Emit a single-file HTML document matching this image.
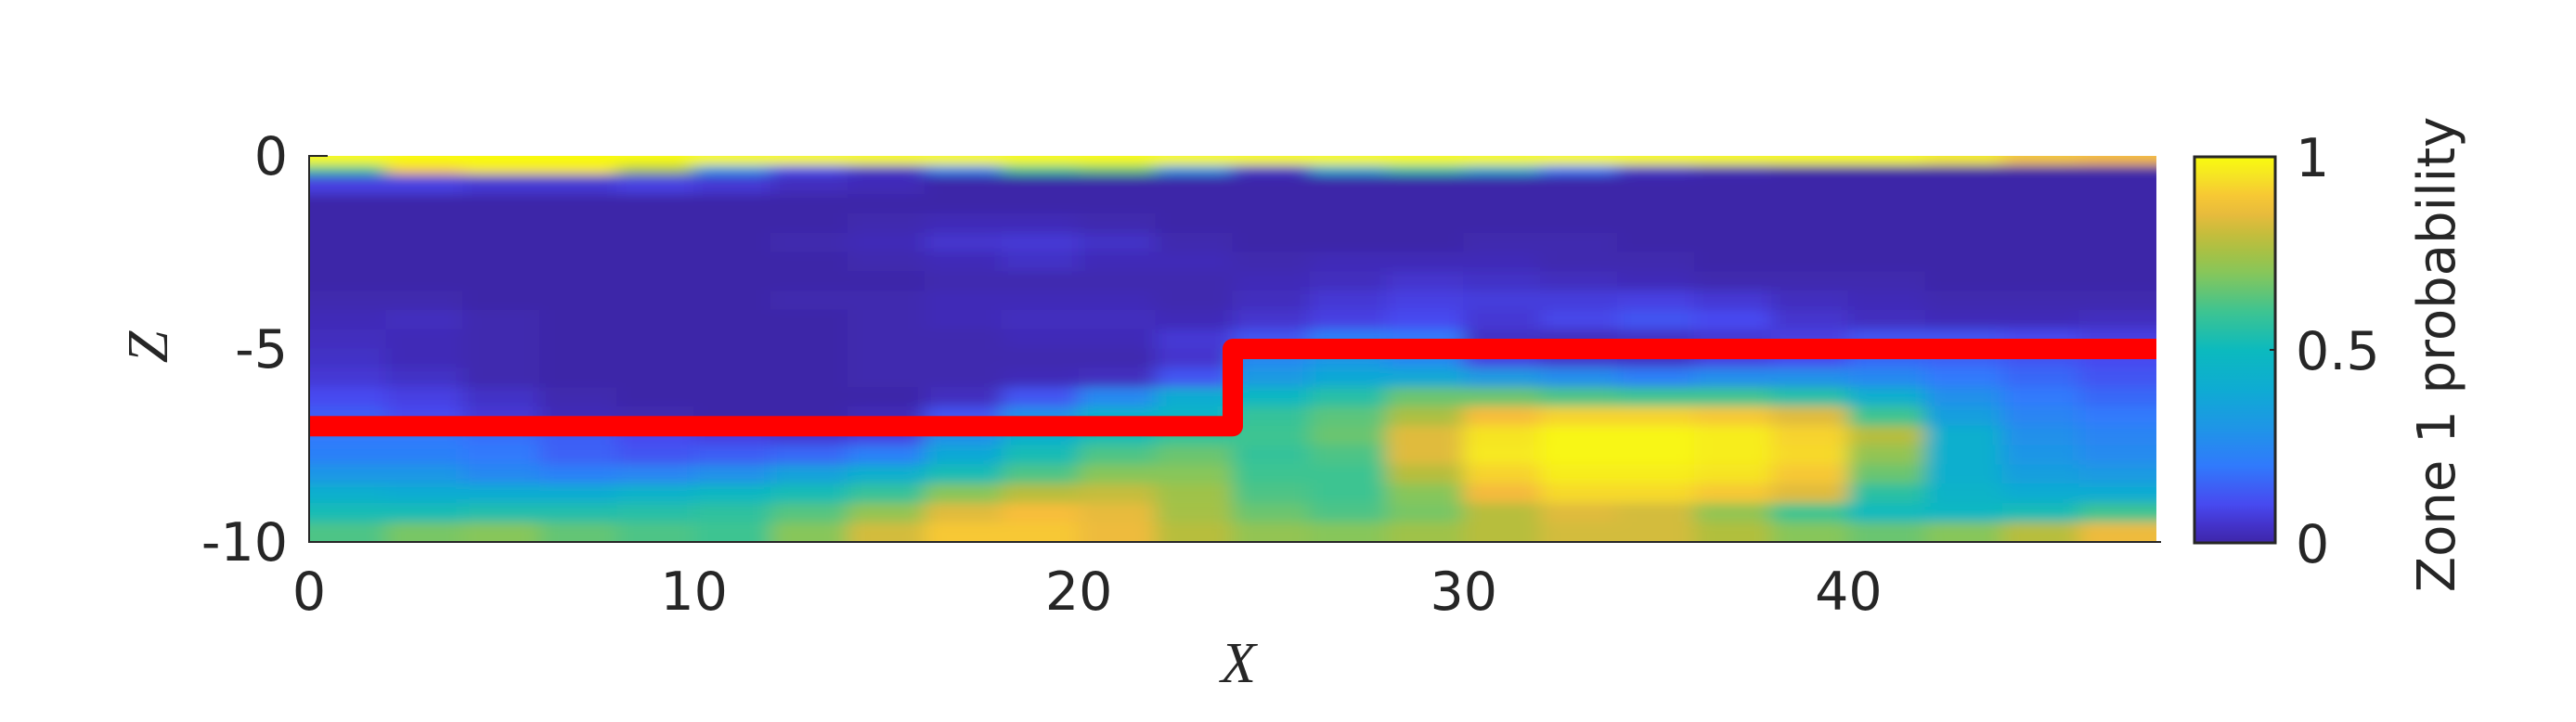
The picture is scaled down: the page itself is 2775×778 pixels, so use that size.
<!DOCTYPE html>
<html>
<head>
<meta charset="utf-8">
<style>
html,body{margin:0;padding:0;background:#fff;}
svg{display:block;}
text{font-family:"DejaVu Sans","Liberation Sans",sans-serif;fill:#262626;}
</style>
</head>
<body>
<svg id="chart" width="2775" height="778" viewBox="0 0 2775 778" xmlns="http://www.w3.org/2000/svg">
  <defs>
    <clipPath id="plotClip"><rect x="333" y="168" width="1990" height="416"/></clipPath>
    <filter id="soft" x="-5%" y="-5%" width="110%" height="110%"><feGaussianBlur stdDeviation="11 6"/></filter>
    <linearGradient id="cbGrad" x1="0" y1="1" x2="0" y2="0"></linearGradient>
  </defs>
  <rect width="2775" height="778" fill="#fff"/>
  <g clip-path="url(#plotClip)"><g id="cells" filter="url(#soft)"></g></g>
  <g id="line"></g>
  <g id="axes"></g>
  <g id="cbar"></g>
  <text x="1334" y="735" text-anchor="middle" style="font-family:'Liberation Serif',serif;font-style:italic;font-size:62px;">X</text>
  <text transform="translate(180,374) rotate(-90)" text-anchor="middle" style="font-family:'Liberation Serif',serif;font-style:italic;font-size:62px;">Z</text>
  <text transform="translate(2644,382) rotate(-90)" text-anchor="middle" style="font-size:56px;">Zone 1 probability</text>
</svg>
<script>
// ---- data ----
const xEdges0 = [0,2,4,6,8,10,12,14,16,18,20,22,24,26,28,30,32,34,36,38,40,42,44,46];
const colWidth = 2;
const topRowA = [1,1,1,1,1,1,1,1,1,1,1,1,1,1,1,1,1,1,1,1,1,0.97,0.9,0.88];
const topRowB = [0.6,0.9,0.95,0.95,0.75,0.3,0.1,0.05,0.25,0.6,0.65,0.3,0.05,0.4,0.55,0.4,0.2,0.05,0.02,0,0,0,0,0];
const rowTops = [-0.5,-1,-1.5,-2,-2.5,-3,-3.5,-4,-4.5,-5,-5.5,-6,-6.5,-7,-7.5,-8,-8.5,-9,-9.5];
const rowHeight = 0.5;
const grid = [
 [0.08,0.08,0.06,0.06,0.08,0.06,0.03,0.02,0,0,0,0,0,0,0,0,0,0,0,0,0,0,0,0],
 [0,0,0,0,0,0,0,0,0,0,0,0,0,0,0,0,0,0,0,0,0,0,0,0],
 [0,0,0,0,0,0,0,0.01,0.02,0.02,0.01,0,0,0,0,0,0,0,0,0,0,0,0,0],
 [0,0,0,0,0,0,0.01,0.02,0.05,0.06,0.04,0.01,0,0,0,0.01,0.01,0,0,0,0,0,0,0],
 [0,0,0,0,0,0,0,0.01,0.02,0.04,0.02,0.02,0.01,0.02,0.02,0.02,0.01,0.01,0,0,0,0,0,0],
 [0,0,0,0,0,0,0,0,0.01,0.01,0.01,0.01,0.02,0.03,0.05,0.04,0.03,0.02,0.01,0.01,0.01,0,0,0],
 [0.01,0.01,0,0,0,0,0.01,0.01,0.02,0.02,0.02,0.01,0.03,0.06,0.08,0.07,0.07,0.08,0.06,0.03,0.02,0.01,0.01,0.01],
 [0.02,0.03,0.01,0,0,0,0,0.01,0.02,0.03,0.03,0.02,0.05,0.08,0.1,0.06,0.09,0.12,0.1,0.05,0.03,0.02,0.02,0.03],
 [0.03,0.02,0.01,0,0,0,0,0.01,0.01,0.02,0.02,0.06,0.12,0.22,0.2,0.04,0.03,0.04,0.06,0.08,0.12,0.12,0.1,0.08],
 [0.04,0.02,0.01,0,0,0,0,0.01,0.01,0.01,0.01,0.05,0.25,0.3,0.25,0.08,0.05,0.04,0.08,0.1,0.16,0.15,0.12,0.1],
 [0.06,0.04,0.01,0,0,0,0,0.01,0.01,0.02,0.03,0.12,0.32,0.38,0.38,0.32,0.27,0.22,0.27,0.28,0.25,0.2,0.16,0.12],
 [0.1,0.08,0.04,0.01,0,0,0,0,0.03,0.12,0.25,0.4,0.48,0.55,0.66,0.66,0.62,0.6,0.6,0.55,0.42,0.28,0.2,0.16],
 [0.14,0.1,0.06,0.02,0.01,0,0,0.02,0.12,0.28,0.42,0.46,0.58,0.64,0.76,0.88,0.92,0.92,0.9,0.84,0.6,0.34,0.24,0.2],
 [0.2,0.2,0.18,0.14,0.1,0.08,0.06,0.08,0.28,0.42,0.52,0.58,0.6,0.66,0.84,0.95,0.99,0.99,0.97,0.92,0.78,0.42,0.28,0.24],
 [0.22,0.22,0.2,0.15,0.12,0.14,0.16,0.22,0.38,0.52,0.62,0.66,0.58,0.62,0.84,0.96,0.99,0.99,0.97,0.93,0.72,0.42,0.3,0.26],
 [0.3,0.3,0.25,0.22,0.24,0.28,0.35,0.42,0.52,0.62,0.7,0.7,0.6,0.6,0.78,0.92,0.97,0.97,0.95,0.9,0.66,0.42,0.34,0.32],
 [0.42,0.4,0.4,0.4,0.44,0.48,0.52,0.58,0.7,0.78,0.8,0.74,0.62,0.6,0.7,0.87,0.93,0.93,0.9,0.84,0.56,0.45,0.4,0.4],
 [0.52,0.52,0.54,0.54,0.55,0.57,0.63,0.72,0.84,0.88,0.85,0.75,0.66,0.62,0.68,0.78,0.84,0.82,0.72,0.6,0.5,0.48,0.52,0.6],
 [0.62,0.68,0.7,0.65,0.62,0.6,0.7,0.82,0.9,0.9,0.86,0.78,0.72,0.7,0.74,0.78,0.82,0.82,0.77,0.7,0.66,0.7,0.78,0.86]
];
const lineX = [0,24,24,48];
const lineZ = [-7,-7,-5,-5];
const xTicks = [0,10,20,30,40];
const zTicks = [0,-5,-10];
const cbTicks = [0,0.5,1];
const cbTickLabels = ["0","0.5","1"];

// ---- scales ----
const X0=333, X1=2323, Y0=168, Y1=584;
const sx = x => X0 + x/48*(X1-X0);
const sy = z => Y0 + (-z)/10*(Y1-Y0);
const P = [[0,[62,38,168]],[0.05,[68,52,205]],[0.1,[71,74,240]],[0.2,[48,122,252]],[0.3,[30,150,230]],[0.4,[14,172,210]],[0.5,[12,186,190]],[0.6,[62,196,145]],[0.7,[135,198,90]],[0.775,[180,190,60]],[0.875,[248,186,60]],[0.95,[246,228,36]],[1,[249,251,14]]];
function parula(v){
  v=Math.max(0,Math.min(1,v));
  for(let i=0;i<P.length-1;i++){
    if(v<=P[i+1][0]){const t=(v-P[i][0])/(P[i+1][0]-P[i][0]);
      const c=P[i][1].map((a,k)=>Math.round(a+(P[i+1][1][k]-a)*t));
      return `rgb(${c[0]},${c[1]},${c[2]})`;}
  }
  return 'rgb(249,251,14)';
}
const NS="http://www.w3.org/2000/svg";
function mk(tag,attrs,parent){const e=document.createElementNS(NS,tag);for(const k in attrs)e.setAttribute(k,attrs[k]);parent.appendChild(e);return e;}

// ---- heatmap ----
const cells=document.getElementById('cells');
function drawRow(vals, zTop, h){
  vals.forEach((v,i)=>{
    const x=xEdges0[i];
    const r=mk('rect',{x:sx(x)-0.5,y:sy(zTop)-0.5,width:sx(x+colWidth)-sx(x)+1,height:sy(zTop-h)-sy(zTop)+1,fill:parula(v)},cells);
    
    
  });
}
drawRow(topRowA,0.3,0.55);
drawRow(topRowB,-0.25,0.25);
rowTops.forEach((zt,j)=>drawRow(grid[j],zt,j===rowTops.length-1?0.8:rowHeight));
cells.querySelectorAll('rect').forEach(r=>{
  const x=+r.getAttribute('x');const w=+r.getAttribute('width');
  if(x<X0+5){r.setAttribute('x',x-25);r.setAttribute('width',w+25);}
  if(x+w>X1-5){r.setAttribute('width',w+25);}
});

// ---- boundary line ----
const lg=document.getElementById('line');
const pts=lineX.map((x,i)=>sx(x)+','+sy(lineZ[i])).join(' ');
const pl=mk('polyline',{points:pts,fill:'none',stroke:'#ff0000','stroke-width':22,'stroke-linejoin':'round'},lg);



// ---- axes ----
const ax=document.getElementById('axes');
const sp1=mk('line',{x1:X0,y1:Y0-1,x2:X0,y2:Y1+1,stroke:'#262626','stroke-width':2},ax);


const sp2=mk('line',{x1:X0-1,y1:Y1,x2:X1+5,y2:Y1,stroke:'#262626','stroke-width':2},ax);


mk('line',{x1:X0,y1:Y0,x2:X0+20,y2:Y0,stroke:'#262626','stroke-width':2},ax);
zTicks.forEach(z=>{
  const t=mk('text',{x:310,y:sy(z)+20,'text-anchor':'end','font-size':57},ax);
  t.textContent=String(z);
  
  
});
xTicks.forEach(x=>{
  const t=mk('text',{x:sx(x),y:657,'text-anchor':'middle','font-size':57},ax);
  t.textContent=String(x);
  
  
});

// ---- colorbar ----
const grad=document.getElementById('cbGrad');
for(let i=0;i<=20;i++){mk('stop',{offset:(i/20),'stop-color':parula(i/20)},grad);}
const cb=document.getElementById('cbar');
const CX0=2364,CX1=2451,CY0=169,CY1=585;
const cbr=mk('rect',{x:CX0,y:CY0,width:CX1-CX0,height:CY1-CY0,fill:'url(#cbGrad)',stroke:'#262626','stroke-width':3},cb);


cbTicks.forEach((v,i)=>{
  const y=CY1-v*(CY1-CY0);
  mk('line',{x1:CX1-6,y1:y,x2:CX1,y2:y,stroke:'#262626','stroke-width':2},cb);
  const t=mk('text',{x:2473,y:y+21,'font-size':57},cb);
  t.textContent=cbTickLabels[i];
  
  
});
</script>
</body>
</html>
